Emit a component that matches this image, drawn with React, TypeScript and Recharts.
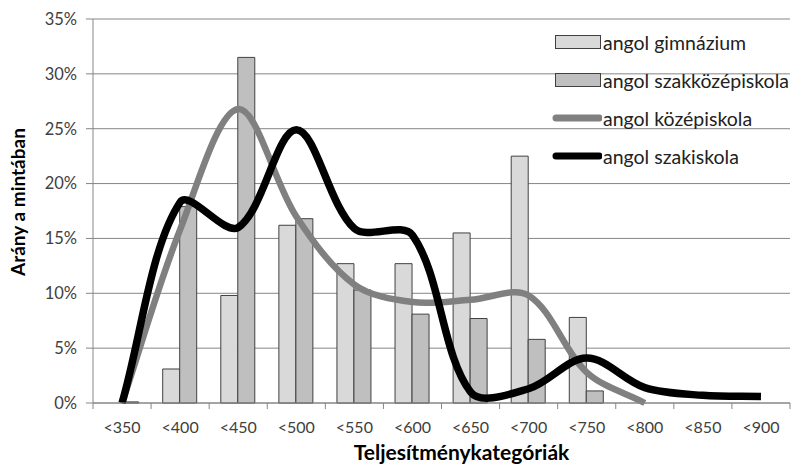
import { ComposedChart, Bar, Line, XAxis, YAxis, CartesianGrid, Label } from 'recharts';

const categories = ['<350', '<400', '<450', '<500', '<550', '<600', '<650', '<700', '<750', '<800', '<850', '<900'];
const gimnazium = [0, 3.1, 9.8, 16.2, 12.7, 12.7, 15.5, 22.5, 7.8, 0, 0, 0];
const szakkozep = [0.1, 17.9, 31.5, 16.8, 10.3, 8.1, 7.7, 5.8, 1.1, 0, 0, 0];
const kozepiskola = [0, 15.8, 26.8, 17.0, 10.8, 9.2, 9.4, 9.8, 2.8, 0, null, null];
const szakiskola = [0, 18.3, 16.0, 24.9, 15.9, 15.3, 1.0, 1.3, 4.1, 1.4, 0.7, 0.6];
const yTicks = [0, 5, 10, 15, 20, 25, 30, 35];

const FONT = 'Lato, "Open Sans", sans-serif';
const AXIS = '#868686';
const TEXT = '#404040';
const PLOT_W = 697;

const data = categories.map((name, i) => ({
  name,
  gimnazium: gimnazium[i],
  szakkozep: szakkozep[i],
  kozepiskola: kozepiskola[i],
  szakiskola: szakiskola[i],
}));

// Excel-style smoothing: tangents split by neighbouring segment lengths
const excelCurve = (context: any) => {
  let pts: number[][] = [];
  const dist = (a: number[], b: number[]) => Math.hypot(b[0] - a[0], b[1] - a[1]);
  return {
    areaStart() {},
    areaEnd() {},
    lineStart() {
      pts = [];
    },
    point(x: number, y: number) {
      pts.push([+x, +y]);
    },
    lineEnd() {
      if (!pts.length) return;
      const n = pts.length;
      const cin: number[][] = [];
      const cout: number[][] = [];
      for (let i = 0; i < n; i++) {
        const p0 = pts[i - 1] || pts[i];
        const p1 = pts[i];
        const p2 = pts[i + 1] || pts[i];
        const d01 = dist(p0, p1);
        const d12 = dist(p1, p2);
        const sum = d01 + d12 || 1;
        const tx = p2[0] - p0[0];
        const ty = p2[1] - p0[1];
        const f = 1 / 3;
        cout[i] = [p1[0] + (tx * f * d12) / sum, p1[1] + (ty * f * d12) / sum];
        cin[i] = [p1[0] - (tx * f * d01) / sum, p1[1] - (ty * f * d01) / sum];
      }
      context.moveTo(pts[0][0], pts[0][1]);
      for (let i = 0; i < n - 1; i++) {
        context.bezierCurveTo(cout[i][0], cout[i][1], cin[i + 1][0], cin[i + 1][1], pts[i + 1][0], pts[i + 1][1]);
      }
    },
  };
};

const XTick = ({ x, y, payload, index }: any) => {
  const step = PLOT_W / categories.length;
  return (
    <g>
      <line x1={x - step / 2} x2={x - step / 2} y1={y} y2={y + 6} stroke={AXIS} />
      {index === categories.length - 1 && (
        <line x1={x + step / 2} x2={x + step / 2} y1={y} y2={y + 6} stroke={AXIS} />
      )}
      <text x={x} y={y + 30} textAnchor="middle" fontFamily={FONT} fontSize={16} fill={TEXT}>
        {payload.value}
      </text>
    </g>
  );
};

const YTitle = ({ viewBox }: any) => {
  const cx = 17;
  const cy = viewBox.y + viewBox.height / 2 - 9;
  return (
    <text
      x={cx}
      y={cy}
      transform={`rotate(-90 ${cx} ${cy})`}
      textAnchor="middle"
      dominantBaseline="central"
      fontFamily={FONT}
      fontSize={19}
      fontWeight={700}
      fill="#000"
    >
      Arány a mintában
    </text>
  );
};

const XTitle = ({ viewBox }: any) => (
  <text
    x={viewBox.x + viewBox.width / 2 + 20}
    y={viewBox.y + 57}
    textAnchor="middle"
    fontFamily={FONT}
    fontSize={21}
    fontWeight={700}
    fill="#000"
  >
    Teljesítménykategóriák
  </text>
);

const legendItems = [
  { label: 'angol gimnázium', kind: 'bar', color: '#D9D9D9' },
  { label: 'angol szakközépiskola', kind: 'bar', color: '#BFBFBF' },
  { label: 'angol középiskola', kind: 'line', color: '#808080' },
  { label: 'angol szakiskola', kind: 'line', color: '#000000' },
];

const CustomLegend = () => (
  <div style={{ position: 'absolute', left: 550, top: 23, fontFamily: FONT, fontSize: 19.5, color: '#222' }}>
    {legendItems.map((it) => (
      <div key={it.label} style={{ display: 'flex', alignItems: 'center', height: 38 }}>
        <svg width={52} height={16} style={{ marginRight: 1 }}>
          {it.kind === 'bar' ? (
            <rect x={5.5} y={1.5} width={45} height={13} fill={it.color} stroke="#404040" />
          ) : (
            <line x1={6} x2={49} y1={8} y2={8} stroke={it.color} strokeWidth={7} strokeLinecap="round" />
          )}
        </svg>
        <span>{it.label}</span>
      </div>
    ))}
  </div>
);

export default function App() {
  return (
    <div style={{ position: 'absolute', left: 0, top: 0, width: 806, height: 468, background: '#fff' }}>
      <ComposedChart
        width={806}
        height={468}
        data={data}
        margin={{ top: 19, right: 16, left: 0, bottom: 0 }}
        barCategoryGap="20%"
        barGap={0}
      >
        <CartesianGrid vertical={false} stroke={AXIS} />
        <XAxis
          dataKey="name"
          height={65}
          tickSize={0}
          tickMargin={0}
          tickLine={false}
          axisLine={{ stroke: AXIS }}
          tick={<XTick />}
          interval={0}
        >
          <Label content={<XTitle />} />
        </XAxis>
        <YAxis
          width={93}
          domain={[0, 35]}
          ticks={yTicks}
          tickFormatter={(v: number) => `${v}%`}
          tickSize={7}
          tickMargin={9}
          tickLine={{ stroke: AXIS }}
          axisLine={{ stroke: AXIS }}
          tick={{ fontFamily: FONT, fontSize: 16.5, fill: TEXT }}
        >
          <Label content={<YTitle />} />
        </YAxis>
        <Bar dataKey="gimnazium" name="angol gimnázium" fill="#D9D9D9" stroke="#404040" strokeWidth={1} isAnimationActive={false} />
        <Bar dataKey="szakkozep" name="angol szakközépiskola" fill="#BFBFBF" stroke="#404040" strokeWidth={1} isAnimationActive={false} />
        <Line
          dataKey="kozepiskola"
          name="angol középiskola"
          type={excelCurve as any}
          stroke="#808080"
          strokeWidth={6.5}
          dot={false}
          activeDot={false}
          isAnimationActive={false}
        />
        <Line
          dataKey="szakiskola"
          name="angol szakiskola"
          type={excelCurve as any}
          stroke="#000000"
          strokeWidth={7.5}
          dot={false}
          activeDot={false}
          isAnimationActive={false}
        />
      </ComposedChart>
      <CustomLegend />
    </div>
  );
}
